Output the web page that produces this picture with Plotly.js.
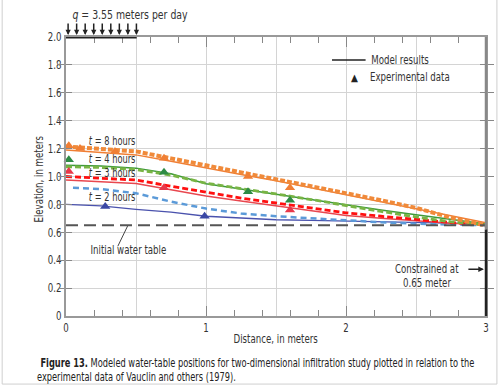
<!DOCTYPE html>
<html>
<head>
<meta charset="utf-8">
<script src="https://cdn.plot.ly/plotly-3.0.1.min.js"></script>
<style>html,body{margin:0;padding:0;background:#fff;}#chart{width:498px;height:388px;}</style>
</head>
<body>
<div id="chart"></div>
<script>
// ---- data ----
const xModel = [0, 0.25, 0.5, 0.75, 1.0, 1.25, 1.5, 1.75, 2.0, 2.25, 2.5, 2.75, 3.0];
const model8hSolid  = [1.19, 1.175, 1.155, 1.11, 1.06, 1.015, 0.97, 0.92, 0.865, 0.815, 0.765, 0.718, 0.668];
const model8hDashed = [1.215, 1.20, 1.18, 1.13, 1.08, 1.035, 0.985, 0.935, 0.88, 0.83, 0.775, 0.705, 0.648];
const model4hSolid  = [1.08, 1.075, 1.06, 1.02, 0.948, 0.91, 0.875, 0.835, 0.795, 0.76, 0.725, 0.69, 0.66];
const model4hDashed = [1.07, 1.065, 1.05, 1.01, 0.952, 0.915, 0.875, 0.835, 0.79, 0.75, 0.71, 0.675, 0.655];
const model3hSolid  = [0.975, 0.965, 0.95, 0.905, 0.86, 0.825, 0.79, 0.755, 0.72, 0.70, 0.68, 0.665, 0.655];
const model3hDashed = [1.0, 0.99, 0.975, 0.93, 0.885, 0.845, 0.81, 0.775, 0.74, 0.715, 0.69, 0.67, 0.655];
const xModel2hDashed = [0.05, 0.25, 0.5, 0.75, 1.0, 1.25, 1.5, 1.75, 2.0, 2.25, 2.5, 2.75, 3.0];
const model2hDashed = [0.92, 0.91, 0.88, 0.82, 0.77, 0.735, 0.715, 0.70, 0.685, 0.672, 0.662, 0.655, 0.65];
const model2hSolid  = [0.80, 0.79, 0.765, 0.745, 0.715, 0.70, 0.69, 0.685, 0.68, 0.675, 0.67, 0.665, 0.66];
const initialX = [0, 3];
const initialY = [0.65, 0.65];

const obs8hX = [0.02, 0.1, 0.35, 0.7, 1.3, 1.6];
const obs8hY = [1.22, 1.20, 1.18, 1.13, 1.0, 0.92];
const obs4hX = [0.02, 0.7, 1.3, 1.6];
const obs4hY = [1.12, 1.03, 0.89, 0.83];
const obs3hX = [0.02, 0.7, 1.6];
const obs3hY = [1.035, 0.92, 0.76];
const obs2hX = [0.28, 0.99];
const obs2hY = [0.785, 0.715];

const qArrowX = [0.015, 0.076, 0.137, 0.198, 0.259, 0.32, 0.381, 0.442, 0.503];

const yTickVals = [0, 0.2, 0.4, 0.6, 0.8, 1.0, 1.2, 1.4, 1.6, 1.8, 2.0];
const yTickText = ['0', '0.2', '0.4', '0.6', '0.8', '1.0', '1.2', '1.4', '1.6', '1.8', '2.0'];
const xTickVals = [0, 1, 2, 3];
const xTickText = ['0', '1', '2', '3'];

// ---- styling ----
const FONT = '"DejaVu Sans Condensed", "Liberation Sans Narrow", Arial, sans-serif';
const SQUEEZE = 0.8;   // horizontal condensing to imitate the narrow typeface
const C = {
  orange: '#f07f35', orangeD: '#f08a3a',
  green: '#3f9a3a', greenD: '#78b444', greenT: '#2e8b45',
  red: '#e8474f', redD: '#ff1010', redT: '#e8384a',
  blue: '#4a52ad', blueD: '#5b9ad8', blueT: '#3b48a5',
  grey: '#555555'
};

function line(x, y, color, width, dash, xaxis) {
  return {x: x, y: y, type: 'scatter', mode: 'lines', hoverinfo: 'skip',
    line: {color: color, width: width, dash: dash || 'solid'}, xaxis: xaxis || 'x', yaxis: 'y'};
}
function pts(x, y, color) {
  return {x: x, y: y, type: 'scatter', mode: 'markers', hoverinfo: 'skip', cliponaxis: false,
    marker: {symbol: 'triangle-up', size: 9, color: color}};
}

const traces = [
  line(xModel, model2hSolid, C.blue, 1.3),
  line(xModel2hDashed, model2hDashed, C.blueD, 2.5, '6px,4px'),
  line(xModel, model3hSolid, C.red, 1.5),
  line(xModel, model3hDashed, C.redD, 2.8, '6px,3px'),
  line(xModel, model4hSolid, C.green, 1.5),
  line(xModel, model4hDashed, C.greenD, 2.8, '6px,3px'),
  line(xModel, model8hSolid, C.orange, 1.5),
  line(xModel, model8hDashed, C.orangeD, 4, '5px,2px'),
  pts(obs2hX, obs2hY, C.blueT),
  pts(obs3hX, obs3hY, C.redT),
  pts(obs4hX, obs4hY, C.greenT),
  pts(obs8hX, obs8hY, C.orange),
  line(initialX, initialY, C.grey, 2, '12px,6px', 'x2')
];

const txt = (s, c) => ({size: s, color: c || '#333', family: FONT});

const annotations = [
  {x: 0.105, y: 1.255, xref: 'x', yref: 'y', text: '<i>t</i> = 8 hours', showarrow: false, xanchor: 'left', yanchor: 'middle', font: txt(11.5)},
  {x: 0.105, y: 1.125, xref: 'x', yref: 'y', text: '<i>t</i> = 4 hours', showarrow: false, xanchor: 'left', yanchor: 'middle', font: txt(11.5)},
  {x: 0.105, y: 1.023, xref: 'x', yref: 'y', text: '<i>t</i> = 3 hours', showarrow: false, xanchor: 'left', yanchor: 'middle', font: txt(11.5)},
  {x: 0.105, y: 0.855, xref: 'x', yref: 'y', text: '<i>t</i> = 2 hours', showarrow: false, xanchor: 'left', yanchor: 'middle', font: txt(11.5)},
  {x: 0.445, y: 0.473, xref: 'x', yref: 'y', text: 'Initial water table', showarrow: false, xanchor: 'center', yanchor: 'middle', font: txt(12)},
  {x: 2.386, y: 1.835, xref: 'x', yref: 'y', text: 'Model results', showarrow: false, xanchor: 'center', yanchor: 'middle', font: txt(12)},
  {x: 2.064, y: 1.713, xref: 'x', yref: 'y', text: '▲', showarrow: false, xanchor: 'center', yanchor: 'middle', font: txt(10, '#222')},
  {x: 2.454, y: 1.713, xref: 'x', yref: 'y', text: 'Experimental data', showarrow: false, xanchor: 'center', yanchor: 'middle', font: txt(12)},
  {x: 2.985, y: 0.335, xref: 'x', yref: 'y', ax: -57, ay: 0, text: 'Constrained at', showarrow: true, arrowhead: 2, arrowsize: 0.8, arrowwidth: 1.4, arrowcolor: '#222', standoff: 0, font: txt(12)},
  {x: 2.575, y: 0.239, xref: 'x', yref: 'y', text: '0.65 meter', showarrow: false, xanchor: 'center', yanchor: 'middle', font: txt(12)},
  {x: 0.152, y: 1.079, xref: 'paper', yref: 'paper', text: '<i>q</i> = 3.55 meters per day', showarrow: false, xanchor: 'center', yanchor: 'middle', font: txt(13)},
  {x: 0.5, y: -0.082, xref: 'paper', yref: 'paper', text: 'Distance, in meters', showarrow: false, xanchor: 'center', yanchor: 'middle', font: txt(12)},
  {x: -0.064, y: 0.49, xref: 'paper', yref: 'paper', text: 'Elevation, in meters', textangle: -90, showarrow: false, xanchor: 'center', yanchor: 'middle', font: txt(12)},
  {x: 0.456, y: -0.168, xref: 'paper', yref: 'paper', text: '<b>Figure 13.</b> Modeled water-table positions for two-dimensional infiltration study plotted in relation to the', showarrow: false, xanchor: 'center', yanchor: 'middle', font: txt(11.5, '#222')},
  {x: 0.167, y: -0.219, xref: 'paper', yref: 'paper', text: 'experimental data of Vauclin and others (1979).', showarrow: false, xanchor: 'center', yanchor: 'middle', font: txt(11.5, '#222')}
];
qArrowX.forEach(function (xv) {
  annotations.push({x: xv, y: 2.0, xref: 'x', yref: 'y', ax: 0, ay: -15, text: '', showarrow: true,
    arrowhead: 2, arrowsize: 0.7, arrowwidth: 1.5, arrowcolor: '#222', standoff: 2});
});

const shapes = [
  // infiltration zone bar on top edge
  {type: 'line', xref: 'x', yref: 'y', x0: 0, x1: 0.505, y0: 2.0, y1: 2.0, line: {color: '#222', width: 3}},
  // right boundary (grey upper part, dark constrained lower part)
  {type: 'line', xref: 'paper', yref: 'y', x0: 1, x1: 1, y0: 0.62, y1: 2.0, line: {color: '#888', width: 2.5}},
  {type: 'line', xref: 'paper', yref: 'y', x0: 1, x1: 1, y0: 0, y1: 0.62, line: {color: '#222', width: 2.5}},
  // leader for initial water table
  {type: 'line', xref: 'x', yref: 'y', x0: 0.37, y0: 0.5, x1: 0.44, y1: 0.645, line: {color: '#444', width: 1}},
  // legend line sample
  {type: 'line', xref: 'x', yref: 'y', x0: 1.9, x1: 2.14, y0: 1.835, y1: 1.835, line: {color: '#222', width: 1.3}},
  // page border
  {type: 'line', xref: 'paper', yref: 'paper', x0: -0.152, x1: -0.152, y0: -0.244, y1: 1.14, line: {color: '#cfcfcf', width: 1}},
  {type: 'line', xref: 'paper', yref: 'paper', x0: -0.152, x1: 1.026, y0: -0.244, y1: -0.244, line: {color: '#cfcfcf', width: 1}},
  {type: 'line', xref: 'paper', yref: 'paper', x0: 1.026, x1: 1.026, y0: -0.244, y1: 1.14, line: {color: '#cfcfcf', width: 1}}
];

const layout = {
  width: 498, height: 388,
  margin: {l: 66, r: 12, t: 37, b: 72, pad: 0},
  paper_bgcolor: '#fff', plot_bgcolor: '#fff',
  showlegend: false,
  font: {family: FONT, size: 12, color: '#333'},
  xaxis: {range: [0, 3], dtick: 0.5, tick0: 0, showgrid: true, gridcolor: '#d4d4d4', gridwidth: 1,
    ticks: '', showticklabels: false, showline: false, zeroline: false, fixedrange: true},
  xaxis2: {overlaying: 'x', anchor: 'y', side: 'bottom', range: [0, 3], tickmode: 'array',
    tickvals: xTickVals, ticktext: xTickText, ticks: 'inside', ticklen: 10, tickwidth: 1, tickcolor: '#888',
    minor: {dtick: 0.2, tick0: 0, ticks: 'inside', ticklen: 6, tickcolor: '#888', showgrid: false},
    showgrid: false, zeroline: false, showline: true, linecolor: '#999', linewidth: 2, mirror: 'allticks',
    tickfont: txt(12)},
  yaxis: {range: [0, 2], tickmode: 'array', tickvals: yTickVals, ticktext: yTickText,
    ticks: 'inside', ticklen: 6, tickwidth: 1, tickcolor: '#888',
    showgrid: true, gridcolor: '#d4d4d4', gridwidth: 1, zeroline: false,
    showline: true, linecolor: '#999', linewidth: 2, mirror: 'allticks',
    tickfont: txt(12)},
  annotations: annotations,
  shapes: shapes
};

Plotly.newPlot('chart', traces, layout, {staticPlot: true, displayModeBar: false}).then(function (gd) {
  // condense every text horizontally about its own anchor (narrow typeface look)
  gd.querySelectorAll('svg text').forEach(function (el) {
    if (!el.textContent || !el.textContent.trim() || el.textContent.trim() === '▲') return;
    const x0 = parseFloat(el.getAttribute('x')) || 0;
    const prev = el.getAttribute('transform') || '';
    el.setAttribute('transform', (prev + ' translate(' + x0 + ',0) scale(' + SQUEEZE + ',1) translate(' + (-x0) + ',0)').trim());
  });
});
</script>
</body>
</html>
